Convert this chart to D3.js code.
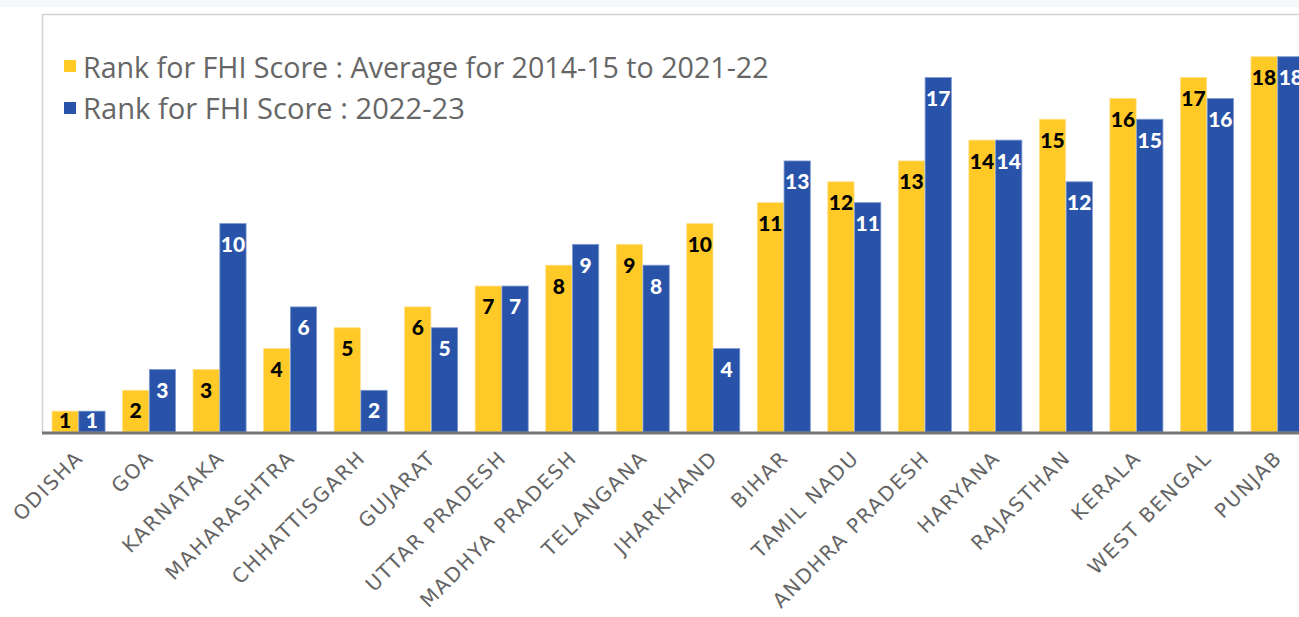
<!DOCTYPE html>
<html><head><meta charset="utf-8">
<script src="https://cdn.jsdelivr.net/npm/d3@7"></script>
<style>html,body{margin:0;padding:0;background:#fff;overflow:hidden}</style>
</head><body>
<svg id="c" width="1299" height="617"></svg>
<script>
const states = ["ODISHA","GOA","KARNATAKA","MAHARASHTRA","CHHATTISGARH","GUJARAT","UTTAR PRADESH","MADHYA PRADESH","TELANGANA","JHARKHAND","BIHAR","TAMIL NADU","ANDHRA PRADESH","HARYANA","RAJASTHAN","KERALA","WEST BENGAL","PUNJAB"];
const rankAvg = [1,2,3,4,5,6,7,8,9,10,11,12,13,14,15,16,17,18];
const rank2223 = [1,3,10,6,2,5,7,9,8,4,13,11,17,14,12,15,16,18];
const seriesNames = ["Rank for FHI Score : Average for 2014-15 to 2021-22","Rank for FHI Score : 2022-23"];
const colors = ["#FFC928","#2853A8"];
const labelColors = ["#000000","#ffffff"];

const svg = d3.select("#c");
svg.append("rect").attr("x",0).attr("y",0).attr("width",1299).attr("height",7).attr("fill","#f5f8f9");
svg.append("path").attr("d","M42.5,433 V14.5 H1300").attr("fill","none").attr("stroke","#d2d2d2").attr("stroke-width",1.6);

const x0 = d3.scaleBand().domain(states).range([42,1314]).paddingInner(0.248).paddingOuter(0.142);
const x1 = d3.scaleBand().domain([0,1]).range([0,x0.bandwidth()]).paddingInner(0.02);
const y = d3.scaleLinear().domain([0,20]).range([432,15]);

const data = states.map((s,i)=>({s, v:[rankAvg[i], rank2223[i]]}));
const g = svg.append("g");
const grp = g.selectAll("g.grp").data(data).join("g").attr("transform",d=>`translate(${x0(d.s)},0)`);
grp.selectAll("rect").data(d=>d.v.map((v,k)=>({v,k}))).join("rect")
  .attr("x",d=>x1(d.k)).attr("width",x1.bandwidth())
  .attr("y",d=>y(d.v)).attr("height",d=>y(0)-y(d.v))
  .attr("fill",d=>colors[d.k]).attr("stroke",d=>d.k===0?"#ffe08a":"#7f9bd0").attr("stroke-width",0.8);
grp.selectAll("text").data(d=>d.v.map((v,k)=>({v,k}))).join("text")
  .attr("x",d=>x1(d.k)+x1.bandwidth()/2)
  .attr("y",d=>Math.min(y(d.v)+22,(y(d.v)+y(0))/2)+1)
  .attr("text-anchor","middle").attr("dominant-baseline","middle")
  .attr("font-family","Lato, 'Noto Sans', sans-serif").attr("font-weight",900).attr("font-size",21)
  .attr("fill",d=>labelColors[d.k]).text(d=>d.v);

const xAxis = svg.append("g").attr("transform","translate(0,433)").call(d3.axisBottom(x0).tickSize(0).tickPadding(0));
xAxis.select(".domain").attr("stroke","#767676").attr("stroke-width",3).attr("d","M42,0H1300");
xAxis.selectAll(".tick text")
  .attr("font-family","'DejaVu Sans', sans-serif").attr("font-size",20).attr("fill","#646464")
  .attr("letter-spacing","1.8px")
  .attr("text-anchor","end").attr("dominant-baseline","auto")
  .attr("transform","translate(6,26) rotate(-45)").attr("x",0).attr("y",0).attr("dy",0);

const leg = svg.append("g");
seriesNames.forEach((n,i)=>{
  const yy = 66 + i*42;
  leg.append("rect").attr("x",64).attr("y",yy-6).attr("width",12).attr("height",12).attr("fill",colors[i]);
  leg.append("text").attr("x",83).attr("y",yy).attr("dominant-baseline","central")
    .attr("font-family","'Open Sans', 'Noto Sans', sans-serif").attr("font-size",24).attr("fill","#666666").text(n);
});
const targets=[686,382];
leg.selectAll("text").each(function(d,i){
  const w=this.getComputedTextLength();
  d3.select(this).attr("font-size",24*targets[i]/w);
});
</script>
</body></html>
